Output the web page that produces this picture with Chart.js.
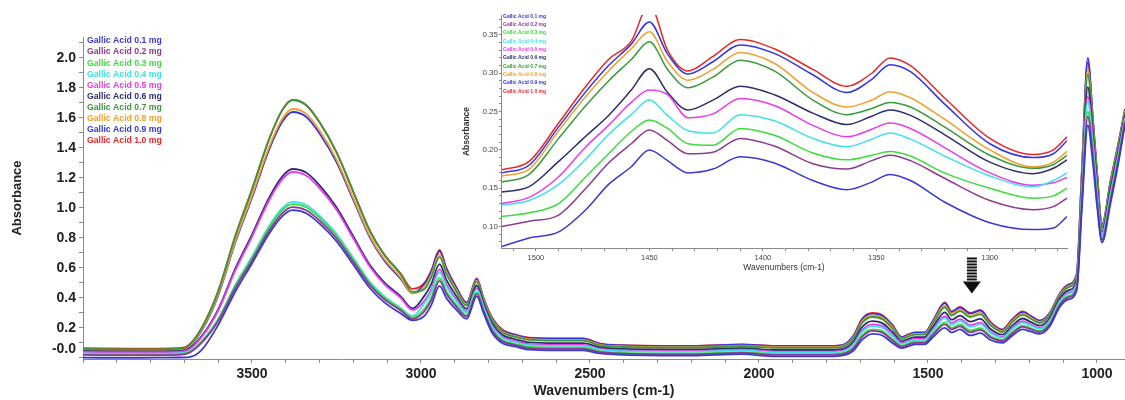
<!DOCTYPE html>
<html lang="en">
<head>
<meta charset="UTF-8">
<title>Gallic Acid FTIR Spectra</title>
<script src="https://cdn.jsdelivr.net/npm/chart.js"></script>
<style>
  body { margin: 0; background: #fff; }
  #wrap { position: relative; width: 1125px; height: 400px; }
  #mainChart { position: absolute; left: 0; top: 0; }
  #insetChart { position: absolute; left: 460px; top: 0; }
</style>
</head>
<body>
<div id="wrap">
  <canvas id="mainChart" width="1125" height="400"></canvas>
  <canvas id="insetChart" width="620" height="285"></canvas>
</div>
<script>
// series names and colours (0.1 mg ... 1.0 mg)
const seriesLabels = ['Gallic Acid 0.1 mg', 'Gallic Acid 0.2 mg', 'Gallic Acid 0.3 mg', 'Gallic Acid 0.4 mg', 'Gallic Acid 0.5 mg',
                      'Gallic Acid 0.6 mg', 'Gallic Acid 0.7 mg', 'Gallic Acid 0.8 mg', 'Gallic Acid 0.9 mg', 'Gallic Acid 1.0 mg'];
const seriesColors = ['#3a3ad0', '#8e3a8e', '#3ddc3d', '#40e0e8', '#e83ce8', '#2e2e6e', '#3a9a3a', '#f0a030', '#3535e0', '#e82828'];

// main spectrum, wavenumbers (cm-1)
const wavenumbers = [4000, 3850, 3720, 3690, 3650, 3600, 3550, 3500, 3450, 3410, 3380, 3340, 3300, 3250, 3200, 3150, 3110, 3060, 3025,
  2990, 2970, 2945, 2925, 2895, 2865, 2835, 2815, 2790, 2760, 2720, 2680, 2600, 2520, 2470, 2400, 2200, 2050, 1950, 1790, 1755,
  1720, 1695, 1665, 1635, 1605, 1578, 1555, 1538, 1510, 1485, 1450, 1430, 1405, 1375, 1345, 1315, 1280, 1250, 1220, 1195, 1170,
  1140, 1110, 1085, 1060, 1045, 1027, 1012, 1000, 985, 960, 935, 917];

const ga01 = [0.002, 0.000, 0.003, 0.004, 0.050, 0.220, 0.440, 0.630, 0.827, 0.946, 0.985, 0.965, 0.896, 0.778, 0.621, 0.463, 0.374, 0.296, 0.250,
  0.280, 0.350, 0.480, 0.400, 0.320, 0.260, 0.410, 0.300, 0.170, 0.100, 0.075, 0.055, 0.050, 0.050, 0.030, 0.020, 0.015, 0.025, 0.010, 0.010, 0.015,
  0.050, 0.120, 0.160, 0.150, 0.100, 0.065, 0.080, 0.090, 0.090, 0.140, 0.200, 0.170, 0.190, 0.150, 0.165, 0.120, 0.100, 0.150, 0.190, 0.175, 0.160,
  0.210, 0.340, 0.390, 0.450, 0.980, 1.550, 1.300, 1.020, 0.770, 1.030, 1.320, 1.560];
const ga02 = [0.020, 0.018, 0.021, 0.030, 0.099, 0.247, 0.463, 0.650, 0.847, 0.966, 1.005, 0.985, 0.916, 0.798, 0.641, 0.483, 0.394, 0.316, 0.260,
  0.311, 0.382, 0.514, 0.428, 0.341, 0.275, 0.427, 0.314, 0.184, 0.113, 0.086, 0.066, 0.061, 0.061, 0.039, 0.029, 0.024, 0.034, 0.020, 0.020, 0.025,
  0.064, 0.140, 0.180, 0.169, 0.117, 0.076, 0.091, 0.101, 0.101, 0.155, 0.224, 0.190, 0.211, 0.171, 0.187, 0.137, 0.113, 0.165, 0.207, 0.190, 0.173,
  0.223, 0.353, 0.404, 0.465, 1.015, 1.609, 1.342, 1.052, 0.787, 1.051, 1.338, 1.574];
const ga03 = [0.025, 0.023, 0.026, 0.035, 0.105, 0.255, 0.475, 0.665, 0.865, 0.985, 1.025, 1.005, 0.935, 0.815, 0.655, 0.495, 0.405, 0.325, 0.270,
  0.328, 0.401, 0.533, 0.444, 0.353, 0.284, 0.436, 0.322, 0.192, 0.120, 0.093, 0.073, 0.068, 0.068, 0.044, 0.034, 0.029, 0.039, 0.025, 0.025, 0.030,
  0.072, 0.151, 0.191, 0.180, 0.126, 0.082, 0.098, 0.108, 0.108, 0.164, 0.237, 0.201, 0.223, 0.183, 0.199, 0.146, 0.120, 0.174, 0.216, 0.198, 0.180,
  0.230, 0.360, 0.412, 0.474, 1.035, 1.642, 1.366, 1.071, 0.796, 1.063, 1.349, 1.582];
const ga04 = [0.030, 0.028, 0.031, 0.040, 0.111, 0.262, 0.485, 0.676, 0.878, 1.000, 1.040, 1.020, 0.949, 0.828, 0.666, 0.505, 0.414, 0.333, 0.280,
  0.364, 0.437, 0.571, 0.476, 0.377, 0.302, 0.456, 0.338, 0.208, 0.134, 0.105, 0.085, 0.080, 0.080, 0.055, 0.045, 0.040, 0.050, 0.037, 0.037, 0.042,
  0.088, 0.173, 0.213, 0.201, 0.146, 0.094, 0.110, 0.120, 0.120, 0.182, 0.265, 0.223, 0.247, 0.207, 0.224, 0.166, 0.134, 0.192, 0.236, 0.215, 0.194,
  0.244, 0.374, 0.428, 0.492, 1.075, 1.710, 1.414, 1.107, 0.816, 1.087, 1.369, 1.598];
const ga05 = [0.040, 0.038, 0.041, 0.052, 0.136, 0.316, 0.580, 0.808, 1.048, 1.192, 1.240, 1.216, 1.132, 0.988, 0.796, 0.604, 0.496, 0.400, 0.320,
  0.381, 0.456, 0.590, 0.492, 0.389, 0.311, 0.465, 0.346, 0.216, 0.141, 0.112, 0.092, 0.087, 0.087, 0.060, 0.050, 0.045, 0.055, 0.042, 0.042, 0.047,
  0.096, 0.184, 0.224, 0.212, 0.155, 0.100, 0.117, 0.127, 0.127, 0.191, 0.278, 0.234, 0.259, 0.219, 0.236, 0.175, 0.141, 0.201, 0.245, 0.223, 0.201,
  0.251, 0.381, 0.436, 0.501, 1.095, 1.743, 1.438, 1.126, 0.825, 1.099, 1.380, 1.606];
const ga06 = [0.045, 0.043, 0.046, 0.057, 0.142, 0.324, 0.592, 0.823, 1.066, 1.211, 1.260, 1.236, 1.151, 1.005, 0.810, 0.616, 0.507, 0.410, 0.330,
  0.414, 0.490, 0.626, 0.522, 0.412, 0.327, 0.483, 0.361, 0.231, 0.155, 0.124, 0.104, 0.099, 0.099, 0.070, 0.060, 0.055, 0.065, 0.053, 0.053, 0.058,
  0.111, 0.205, 0.245, 0.232, 0.173, 0.111, 0.129, 0.139, 0.139, 0.207, 0.304, 0.255, 0.282, 0.242, 0.260, 0.193, 0.155, 0.217, 0.263, 0.239, 0.215,
  0.265, 0.395, 0.451, 0.517, 1.133, 1.806, 1.483, 1.160, 0.843, 1.122, 1.399, 1.621];
const ga07 = [0.060, 0.057, 0.061, 0.077, 0.193, 0.442, 0.807, 1.122, 1.454, 1.654, 1.720, 1.687, 1.571, 1.371, 1.106, 0.840, 0.691, 0.558, 0.440,
  0.458, 0.536, 0.674, 0.562, 0.442, 0.349, 0.507, 0.381, 0.251, 0.173, 0.140, 0.120, 0.115, 0.115, 0.083, 0.073, 0.068, 0.078, 0.067, 0.067, 0.072,
  0.131, 0.233, 0.273, 0.259, 0.197, 0.126, 0.145, 0.155, 0.155, 0.229, 0.338, 0.283, 0.312, 0.272, 0.291, 0.217, 0.173, 0.239, 0.287, 0.260, 0.233,
  0.283, 0.413, 0.471, 0.539, 1.183, 1.890, 1.543, 1.206, 0.867, 1.152, 1.425, 1.641];
const ga08 = [0.055, 0.052, 0.056, 0.071, 0.183, 0.424, 0.777, 1.082, 1.403, 1.596, 1.660, 1.628, 1.516, 1.323, 1.066, 0.809, 0.665, 0.537, 0.430,
  0.474, 0.552, 0.691, 0.576, 0.452, 0.357, 0.516, 0.388, 0.258, 0.179, 0.145, 0.125, 0.120, 0.120, 0.087, 0.077, 0.072, 0.082, 0.072, 0.072, 0.077,
  0.138, 0.243, 0.283, 0.269, 0.206, 0.131, 0.150, 0.160, 0.160, 0.237, 0.350, 0.293, 0.322, 0.282, 0.301, 0.226, 0.179, 0.247, 0.296, 0.267, 0.239,
  0.289, 0.419, 0.478, 0.547, 1.200, 1.920, 1.564, 1.222, 0.876, 1.162, 1.434, 1.648];
const ga09 = [0.050, 0.048, 0.051, 0.066, 0.177, 0.416, 0.766, 1.068, 1.386, 1.576, 1.640, 1.608, 1.497, 1.306, 1.052, 0.797, 0.654, 0.527, 0.430,
  0.493, 0.573, 0.713, 0.594, 0.466, 0.367, 0.526, 0.397, 0.267, 0.187, 0.153, 0.133, 0.128, 0.128, 0.093, 0.083, 0.078, 0.088, 0.078, 0.078, 0.083,
  0.147, 0.256, 0.296, 0.281, 0.216, 0.138, 0.158, 0.168, 0.168, 0.247, 0.365, 0.306, 0.336, 0.296, 0.315, 0.236, 0.187, 0.257, 0.306, 0.277, 0.247,
  0.297, 0.427, 0.487, 0.557, 1.223, 2.000, 1.591, 1.243, 0.886, 1.176, 1.446, 1.657];
const ga10 = [0.065, 0.062, 0.066, 0.082, 0.197, 0.446, 0.810, 1.124, 1.455, 1.654, 1.720, 1.687, 1.571, 1.372, 1.108, 0.843, 0.694, 0.562, 0.460,
  0.500, 0.580, 0.720, 0.600, 0.470, 0.370, 0.530, 0.400, 0.270, 0.190, 0.155, 0.135, 0.130, 0.130, 0.095, 0.085, 0.080, 0.090, 0.080, 0.080, 0.085,
  0.150, 0.260, 0.300, 0.285, 0.220, 0.140, 0.160, 0.170, 0.170, 0.250, 0.370, 0.310, 0.340, 0.300, 0.320, 0.240, 0.190, 0.260, 0.310, 0.280, 0.250,
  0.300, 0.430, 0.490, 0.560, 1.230, 1.970, 1.600, 1.250, 0.890, 1.180, 1.450, 1.660];

// inset (zoom of 1515-1266 cm-1)
const insetWavenumbers = [1515, 1503, 1490, 1478, 1468, 1458, 1450, 1442, 1433, 1422, 1410, 1395, 1378, 1363, 1352, 1344, 1335, 1320, 1300, 1281, 1272, 1266];
const in01 = [0.074, 0.085, 0.093, 0.122, 0.155, 0.178, 0.200, 0.186, 0.170, 0.175, 0.191, 0.183, 0.160, 0.148, 0.158, 0.168, 0.160, 0.132, 0.105, 0.096, 0.098, 0.113];
const in02 = [0.100, 0.107, 0.115, 0.150, 0.183, 0.208, 0.226, 0.212, 0.195, 0.197, 0.215, 0.205, 0.182, 0.175, 0.186, 0.193, 0.186, 0.163, 0.134, 0.122, 0.126, 0.137];
const in03 = [0.113, 0.118, 0.130, 0.165, 0.195, 0.224, 0.239, 0.228, 0.208, 0.206, 0.228, 0.219, 0.196, 0.187, 0.193, 0.198, 0.192, 0.170, 0.150, 0.137, 0.140, 0.150];
const in04 = [0.128, 0.134, 0.155, 0.188, 0.220, 0.246, 0.265, 0.245, 0.225, 0.222, 0.246, 0.238, 0.215, 0.204, 0.214, 0.222, 0.214, 0.192, 0.166, 0.152, 0.160, 0.170];
const in05 = [0.130, 0.138, 0.165, 0.204, 0.232, 0.262, 0.278, 0.272, 0.242, 0.247, 0.267, 0.258, 0.232, 0.217, 0.227, 0.235, 0.228, 0.203, 0.170, 0.154, 0.157, 0.164];
const in06 = [0.145, 0.152, 0.185, 0.218, 0.245, 0.278, 0.306, 0.275, 0.252, 0.265, 0.283, 0.272, 0.248, 0.233, 0.244, 0.252, 0.245, 0.220, 0.184, 0.169, 0.176, 0.187];
const in07 = [0.158, 0.168, 0.215, 0.258, 0.290, 0.318, 0.341, 0.305, 0.281, 0.295, 0.317, 0.303, 0.265, 0.246, 0.254, 0.262, 0.256, 0.230, 0.193, 0.176, 0.181, 0.193];
const in08 = [0.166, 0.175, 0.225, 0.270, 0.303, 0.332, 0.354, 0.315, 0.291, 0.305, 0.327, 0.313, 0.275, 0.256, 0.265, 0.276, 0.268, 0.240, 0.200, 0.178, 0.184, 0.198];
const in09 = [0.170, 0.180, 0.230, 0.276, 0.310, 0.338, 0.367, 0.325, 0.299, 0.315, 0.337, 0.326, 0.298, 0.275, 0.292, 0.311, 0.302, 0.260, 0.208, 0.190, 0.195, 0.212];
const in10 = [0.174, 0.185, 0.235, 0.283, 0.318, 0.342, 0.390, 0.330, 0.303, 0.322, 0.344, 0.332, 0.305, 0.283, 0.300, 0.320, 0.310, 0.268, 0.215, 0.194, 0.200, 0.217];

// tick labels
const xTickLabels = [3500, 3000, 2500, 2000, 1500, 1000];
const yTickValues = [0, 0.2, 0.4, 0.6, 0.8, 1.0, 1.2, 1.4, 1.6, 1.8, 2.0];
const yTickLabels = ['-0.0', '0.2', '0.4', '0.6', '0.8', '1.0', '1.2', '1.4', '1.6', '1.8', '2.0'];
const insetXTickLabels = [1500, 1450, 1400, 1350, 1300];
const insetYTickValues = [0.10, 0.15, 0.20, 0.25, 0.30, 0.35];
const insetYTickLabels = ['0.10', '0.15', '0.20', '0.25', '0.30', '0.35'];

const mainSeries = [ga01, ga02, ga03, ga04, ga05, ga06, ga07, ga08, ga09, ga10];
const insetSeries = [in01, in02, in03, in04, in05, in06, in07, in08, in09, in10];

const FONT = '"Liberation Sans", Arial, sans-serif';
const AXIS = '#8a8a8a';

function labelFor(v, values, labels) {
  const i = values.findIndex(t => Math.abs(t - v) < 1e-6);
  return i >= 0 ? labels[i] : '';
}

// coloured text legend drawn inside the plot
const textLegend = {
  id: 'textLegend',
  afterDatasetsDraw(chart, args, opts) {
    const ctx = chart.ctx;
    ctx.save();
    ctx.font = opts.font;
    ctx.textAlign = 'left';
    ctx.textBaseline = 'middle';
    chart.data.datasets.forEach((ds, i) => {
      ctx.fillStyle = ds.borderColor;
      ctx.fillText(ds.label, opts.x, opts.y + i * opts.dy);
    });
    ctx.restore();
  }
};

// black striped arrow pointing at the zoomed region
const arrowMark = {
  id: 'arrowMark',
  afterDatasetsDraw(chart, args, opts) {
    if (!opts || opts.at === undefined) return;
    const {ctx, scales: {x, y}} = chart;
    const cx = x.getPixelForValue(opts.at);
    const top = y.getPixelForValue(opts.from);
    const tip = y.getPixelForValue(opts.to);
    const headH = 12;
    ctx.save();
    ctx.fillStyle = '#111';
    for (let yy = top; yy < tip - headH; yy += 3) {
      ctx.fillRect(cx - 5, yy, 10, 2);
    }
    ctx.beginPath();
    ctx.moveTo(cx - 9, tip - headH);
    ctx.lineTo(cx + 9, tip - headH);
    ctx.lineTo(cx, tip);
    ctx.closePath();
    ctx.fill();
    ctx.restore();
  }
};

function makeDatasets(xs, series, width) {
  return series.map((vals, i) => ({
    label: seriesLabels[i],
    data: xs.map((w, j) => ({x: w, y: vals[j]})),
    borderColor: seriesColors[i],
    backgroundColor: seriesColors[i],
    borderWidth: width,
    pointRadius: 0,
    fill: false,
    cubicInterpolationMode: 'monotone'
  }));
}

// main chart
new Chart(document.getElementById('mainChart'), {
  type: 'line',
  data: { datasets: makeDatasets(wavenumbers, mainSeries, 1.8) },
  options: {
    responsive: false,
    animation: false,
    events: [],
    layout: { padding: { top: 37, right: 0, bottom: 0, left: 0 } },
    plugins: {
      legend: { display: false },
      tooltip: { enabled: false },
      textLegend: { font: 'bold 8.7px ' + FONT, x: 87, y: 41, dy: 11.1 },
      arrowMark: { at: 1370, from: 0.67, to: 0.43 }
    },
    scales: {
      x: {
        type: 'linear',
        reverse: true,
        min: 917,
        max: 4000,
        border: { color: AXIS, width: 1 },
        grid: { drawOnChartArea: false, tickLength: 4, color: AXIS },
        ticks: {
          stepSize: 100, includeBounds: false, autoSkip: false, maxRotation: 0, padding: 3,
          color: '#222', font: { family: FONT, size: 14, weight: 'bold' },
          callback: v => xTickLabels.includes(v) ? String(v) : ''
        },
        title: { display: true, text: 'Wavenumbers (cm-1)', color: '#222',
                 font: { family: FONT, size: 14, weight: 'bold' }, padding: { top: 0, bottom: 0 } },
        afterFit: s => { s.height = 41; }
      },
      y: {
        min: -0.007,
        max: 2.14,
        border: { color: AXIS, width: 1 },
        grid: { drawOnChartArea: false, tickLength: 4, color: AXIS },
        ticks: {
          stepSize: 0.1, includeBounds: false, autoSkip: false, padding: 3,
          color: '#222', font: { family: FONT, size: 14, weight: 'bold' },
          // the zero label sits a little above its tick, as in the original
          callback: v => {
            const lab = labelFor(v, yTickValues, yTickLabels);
            return Math.abs(v) < 1e-6 ? [lab, ''] : lab;
          }
        },
        title: { display: true, text: 'Absorbance', color: '#222',
                 font: { family: FONT, size: 13, weight: 'bold' }, padding: { top: 10, bottom: 0 } },
        afterFit: s => { s.width = 83; }
      }
    }
  },
  plugins: [textLegend, arrowMark]
});

// inset chart
new Chart(document.getElementById('insetChart'), {
  type: 'line',
  data: { datasets: makeDatasets(insetWavenumbers, insetSeries, 1.5) },
  options: {
    responsive: false,
    animation: false,
    events: [],
    layout: { padding: { top: 15, right: 13, bottom: 0, left: 0 } },
    plugins: {
      legend: { display: false },
      tooltip: { enabled: false },
      textLegend: { font: 'bold 5px ' + FONT, x: 43, y: 16.5, dy: 8.3 }
    },
    scales: {
      x: {
        type: 'linear',
        reverse: true,
        min: 1266,
        max: 1515.4,
        border: { color: AXIS, width: 1 },
        grid: { drawOnChartArea: false, tickLength: 3, color: AXIS },
        ticks: {
          stepSize: 10, includeBounds: false, autoSkip: false, maxRotation: 0, padding: 2,
          color: '#444', font: { family: FONT, size: 7.5 },
          callback: v => insetXTickLabels.includes(v) ? String(v) : ''
        },
        title: { display: true, text: 'Wavenumbers (cm-1)', color: '#333',
                 font: { family: FONT, size: 8.5 }, padding: { top: 0, bottom: 12 } },
        afterFit: s => { s.height = 37; }
      },
      y: {
        min: 0.072,
        max: 0.376,
        border: { color: AXIS, width: 1 },
        grid: { drawOnChartArea: false, tickLength: 2, color: AXIS },
        ticks: {
          stepSize: 0.01, includeBounds: false, autoSkip: false, padding: 1,
          color: '#444', font: { family: FONT, size: 8 },
          callback: v => labelFor(v, insetYTickValues, insetYTickLabels)
        },
        title: { display: true, text: 'Absorbance', color: '#333',
                 font: { family: FONT, size: 8.5, weight: 'bold' }, padding: { top: 2, bottom: 0 } },
        afterFit: s => { s.width = 41; }
      }
    }
  },
  plugins: [textLegend]
});
</script>
</body>
</html>
